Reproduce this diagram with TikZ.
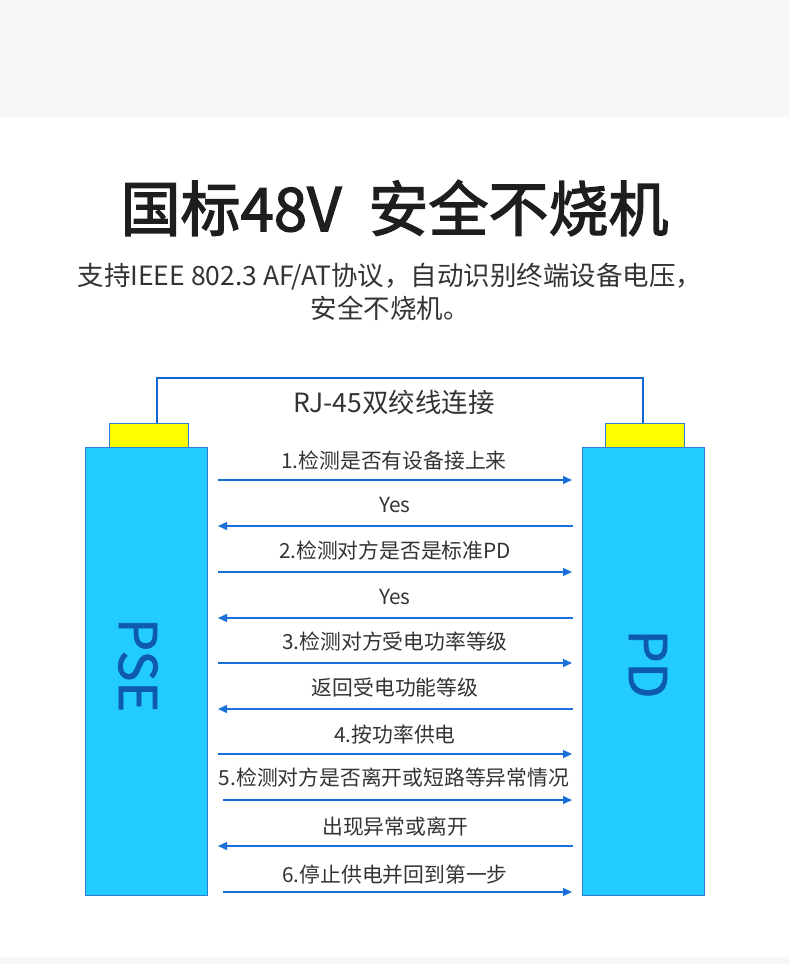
\documentclass[tikz,border=0pt]{standalone}
\usepackage{fontspec}
\setmainfont{Noto Sans CJK SC}
\newfontfamily\titlefont{Noto Sans CJK SC}[FakeBold=2.2]
\newfontfamily\sidefont{Noto Sans CJK SC}[FakeBold=1.5]
\usetikzlibrary{arrows.meta}
\definecolor{bandgray}{HTML}{F7F7F7}
\definecolor{barfill}{HTML}{22CCFF}
\definecolor{barline}{HTML}{2A7ED8}
\definecolor{capyellow}{HTML}{FFFF00}
\definecolor{wireblue}{HTML}{1066D2}
\definecolor{arrowblue}{HTML}{1A70D8}
\definecolor{labelblue}{HTML}{0D5AAE}
\definecolor{titlegray}{HTML}{1E1E1E}
\definecolor{textgray}{HTML}{333333}
\tikzset{
  barbox/.style={draw=barline, line width=1.2pt, fill=barfill, inner sep=0pt, minimum width=122pt, minimum height=448pt, anchor=north west},
  capbox/.style={draw=barline, line width=1.2pt, fill=capyellow, inner sep=0pt, minimum width=79pt, minimum height=24pt, anchor=north west},
  steplabel/.style={text=textgray, font=\fontsize{20.8}{23}\selectfont, inner sep=0pt},
  msgarrow/.style={draw=arrowblue, line width=1.2pt, -{Triangle[length=9pt,width=8pt]}},
  sidelabel/.style={text=labelblue, font=\sidefont\fontsize{52}{56}\selectfont, rotate=-90, inner sep=0pt},
}
\begin{document}
\begin{tikzpicture}[x=1pt,y=-1pt]
\useasboundingbox (0,0) rectangle (790,964);
\fill[bandgray] (0,0) rectangle (790,117);
\fill[bandgray] (0,957) rectangle (790,964);

\node[text=titlegray, font=\titlefont\fontsize{60}{64}\selectfont, inner sep=0pt] (title) at (394.5,208) {国标48V\ \ 安全不烧机};
\node[text=textgray, font=\fontsize{26.5}{33}\selectfont, align=center, inner sep=0pt] (subtitle) at (390,292) {支持IEEE 802.3 AF/AT协议，自动识别终端设备电压，\\安全不烧机。};

\node[barbox] (pse) at (85,447) {};
\node[barbox] (pd) at (581.5,447) {};
\node[capbox] (psecap) at (108.5,423) {};
\node[capbox] (pdcap) at (604.5,423) {};

\coordinate (wl) at (157,378);
\coordinate (wr) at (643,378);
\draw[wireblue, line width=2.4pt] (psecap.north -| wl) -- (wl) -- (wr) -- (pdcap.north -| wr);
\node[text=textgray, font=\fontsize{26.5}{28}\selectfont, inner sep=0pt] (rj) at (394,402) {RJ-45双绞线连接};

\node[sidelabel] (psetext) at (138,665) {PSE};
\node[sidelabel] (pdtext) at (648,664) {PD};

% step labels
\node[steplabel] (t1) at (394,461) {1.检测是否有设备接上来};
\node[steplabel] (t2) at (395,505) {Yes};
\node[steplabel] (t3) at (395,551) {2.检测对方是否是标准PD};
\node[steplabel] (t4) at (395,597) {Yes};
\node[steplabel] (t5) at (395,642) {3.检测对方受电功率等级};
\node[steplabel] (t6) at (395,688) {返回受电功能等级};
\node[steplabel] (t7) at (395,735) {4.按功率供电};
\node[steplabel] (t8) at (394,778) {5.检测对方是否离开或短路等异常情况};
\node[steplabel] (t9) at (395,827) {出现异常或离开};
\node[steplabel] (t10) at (395,875) {6.停止供电并回到第一步};

% arrow end points
\coordinate (a1l) at (218,480);  \coordinate (a1r) at (572,480);
\coordinate (a2l) at (218,526);  \coordinate (a2r) at (573,526);
\coordinate (a3l) at (218,572);  \coordinate (a3r) at (572,572);
\coordinate (a4l) at (218,618);  \coordinate (a4r) at (573,618);
\coordinate (a5l) at (218,663);  \coordinate (a5r) at (572,663);
\coordinate (a6l) at (218,709);  \coordinate (a6r) at (573,709);
\coordinate (a7l) at (218,754);  \coordinate (a7r) at (572,754);
\coordinate (a8l) at (223,800);  \coordinate (a8r) at (572,800);
\coordinate (a9l) at (218,846);  \coordinate (a9r) at (573,846);
\coordinate (a10l) at (223,892); \coordinate (a10r) at (572,892);

\draw[msgarrow] (a1l) -- (a1r);
\draw[msgarrow] (a2r) -- (a2l);
\draw[msgarrow] (a3l) -- (a3r);
\draw[msgarrow] (a4r) -- (a4l);
\draw[msgarrow] (a5l) -- (a5r);
\draw[msgarrow] (a6r) -- (a6l);
\draw[msgarrow] (a7l) -- (a7r);
\draw[msgarrow] (a8l) -- (a8r);
\draw[msgarrow] (a9r) -- (a9l);
\draw[msgarrow] (a10l) -- (a10r);
\end{tikzpicture}
\end{document}
